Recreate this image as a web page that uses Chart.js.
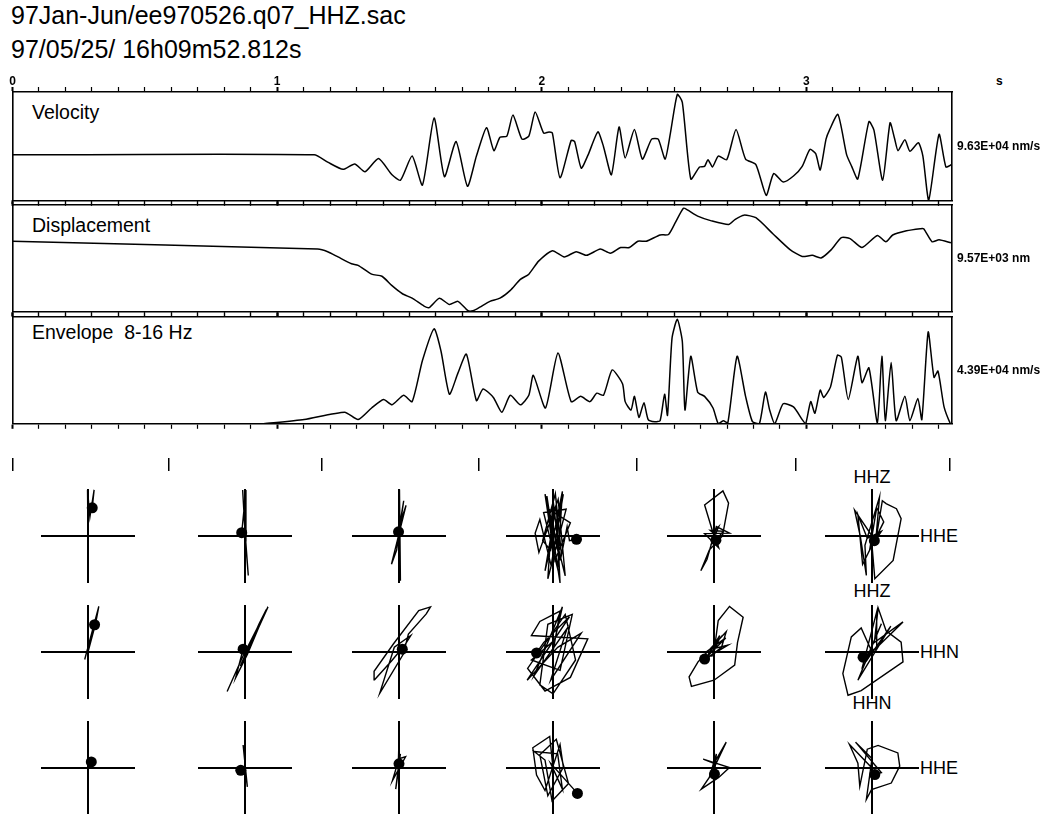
<!DOCTYPE html>
<html lang="en">
<head>
<meta charset="UTF-8">
<title>97Jan-Jun/ee970526.q07_HHZ.sac</title>
<script src="https://cdn.jsdelivr.net/npm/chart.js"></script>
<style>
  body { margin: 0; width: 1057px; height: 814px; position: relative; overflow: hidden; background: #fff;
         font-family: 'Liberation Sans', Arial, Helvetica, sans-serif; color: #000; }
  canvas { position: absolute; }
  .txt { position: absolute; white-space: pre; line-height: 1; }
  .title { font-size: 25px; left: 11px; }
  .panel { font-size: 19.5px; left: 32px; }
  .chan { font-size: 18px; }
  .mid { transform: translateX(-50%); }
</style>
</head>
<body>
<div class="txt title" style="top:3px">97Jan-Jun/ee970526.q07_HHZ.sac</div>
<div class="txt title" style="top:37px">97/05/25/ 16h09m52.812s</div>
<div class="txt" style="left:996px;top:75px;font-size:12px;font-weight:bold">s</div>
<div class="txt panel" style="top:103px">Velocity</div>
<div class="txt panel" style="top:216px">Displacement</div>
<div class="txt panel" style="top:323px">Envelope  8-16 Hz</div>
<div class="txt chan mid" style="left:872px;top:468px">HHZ</div>
<div class="txt chan mid" style="left:872px;top:582px">HHZ</div>
<div class="txt chan mid" style="left:872px;top:694px">HHN</div>
<div class="txt chan" style="left:920px;top:527px">HHE</div>
<div class="txt chan" style="left:920px;top:643px">HHN</div>
<div class="txt chan" style="left:920px;top:759px">HHE</div>

<script>
// time axis (s)
const T_MAX = 3.55;

// velocity, relative to its peak (9.63E+04 nm/s)
const velT = [0, 1.14, 1.191, 1.249, 1.293, 1.332, 1.383, 1.434, 1.466, 1.510, 1.549, 1.593, 1.632, 1.676, 1.719, 1.753,
  1.791, 1.819, 1.842, 1.868, 1.891, 1.925, 1.951, 1.975, 2.007, 2.027, 2.040, 2.069, 2.111, 2.124, 2.149, 2.175,
  2.212, 2.233, 2.263, 2.292, 2.315, 2.350, 2.380, 2.415, 2.440, 2.466, 2.486, 2.512, 2.531, 2.563, 2.596, 2.615,
  2.628, 2.645, 2.667, 2.699, 2.734, 2.770, 2.809, 2.848, 2.876, 2.912, 2.951, 2.984, 3.013, 3.035, 3.052, 3.074,
  3.087, 3.119, 3.152, 3.171, 3.194, 3.236, 3.255, 3.288, 3.316, 3.333, 3.346, 3.372, 3.391, 3.423, 3.440, 3.462,
  3.501, 3.527, 3.549];
const velA = [0, 0, -0.12, -0.24, -0.15, -0.28, -0.06, -0.33, -0.42, -0.02, -0.50, 0.61, -0.36, 0.22, -0.52, -0.02,
  0.45, 0.07, 0.29, 0.31, 0.66, 0.26, 0.31, 0.71, 0.36, 0.38, 0.36, -0.38, 0.24, 0.22, -0.22, 0.0,
  0.38, 0.14, -0.33, 0.46, -0.05, 0.42, -0.07, 0.26, 0.26, -0.07, 0.36, 1.0, 0.87, -0.40, -0.20, -0.19,
  -0.08, -0.20, -0.02, -0.08, 0.42, -0.07, -0.16, -0.67, -0.31, -0.45, -0.35, -0.19, 0.09, 0.02, -0.25, 0.26,
  0.41, 0.67, 0.0, -0.19, -0.40, 0.55, 0.41, -0.42, 0.53, 0.27, 0.07, 0.25, 0.06, 0.20, -0.02, -0.75,
  0.34, -0.20, -0.16];

// displacement, relative to 9.57E+03 nm
const dispT = [0, 1.153, 1.191, 1.230, 1.281, 1.306, 1.357, 1.396, 1.434, 1.472, 1.510, 1.555, 1.574, 1.613, 1.651, 1.683,
  1.721, 1.740, 1.766, 1.804, 1.842, 1.881, 1.919, 1.951, 1.988, 2.040, 2.085, 2.130, 2.169, 2.221, 2.259, 2.298,
  2.331, 2.363, 2.395, 2.447, 2.479, 2.505, 2.535, 2.550, 2.589, 2.641, 2.706, 2.731, 2.764, 2.809, 2.874, 2.938,
  2.984, 3.022, 3.055, 3.094, 3.132, 3.165, 3.210, 3.268, 3.300, 3.326, 3.378, 3.430, 3.443, 3.475, 3.501, 3.546];
const dispA = [0.33, 0.18, 0.13, 0.03, -0.10, -0.13, -0.30, -0.34, -0.52, -0.67, -0.76, -0.91, -0.94, -0.76, -0.88, -0.82,
  -1.0, -1.0, -0.93, -0.82, -0.76, -0.61, -0.40, -0.30, -0.05, 0.15, 0.03, 0.13, 0.06, 0.18, 0.10, 0.21,
  0.21, 0.33, 0.33, 0.45, 0.46, 0.69, 0.96, 0.93, 0.81, 0.72, 0.65, 0.75, 0.83, 0.78, 0.47, 0.17,
  0.04, 0.06, 0.01, 0.17, 0.40, 0.38, 0.21, 0.44, 0.32, 0.45, 0.53, 0.57, 0.57, 0.32, 0.36, 0.30];

// 8-16 Hz envelope, relative to 4.39E+04 nm/s
const envT = [0.949, 1.102, 1.255, 1.306, 1.357, 1.402, 1.434, 1.478, 1.510, 1.549, 1.593, 1.619, 1.651, 1.683, 1.715,
  1.753, 1.778, 1.817, 1.849, 1.881, 1.919, 1.951, 1.968, 2.014, 2.061, 2.111, 2.147, 2.182, 2.208, 2.233,
  2.266, 2.305, 2.315, 2.337, 2.350, 2.367, 2.386, 2.402, 2.427, 2.447, 2.464, 2.475, 2.492, 2.512, 2.531,
  2.541, 2.563, 2.589, 2.615, 2.647, 2.667, 2.686, 2.703, 2.738, 2.770, 2.796, 2.822, 2.845, 2.861, 2.880,
  2.912, 2.951, 2.984, 2.997, 3.016, 3.032, 3.052, 3.065, 3.091, 3.117, 3.132, 3.158, 3.194, 3.210, 3.236,
  3.268, 3.285, 3.298, 3.320, 3.339, 3.372, 3.391, 3.421, 3.436, 3.460, 3.482, 3.497, 3.520, 3.544, 3.549];
const envA = [0, 0.04, 0.11, 0.04, 0.15, 0.23, 0.18, 0.27, 0.21, 0.60, 0.90, 0.69, 0.28, 0.48, 0.66,
  0.22, 0.33, 0.25, 0.11, 0.27, 0.18, 0.27, 0.46, 0.15, 0.67, 0.21, 0.26, 0.21, 0.29, 0.27,
  0.51, 0.38, 0.21, 0.13, 0.26, 0.06, 0.20, 0.04, 0.02, 0.03, 0.28, 0.08, 0.81, 0.99, 0.78,
  0.13, 0.64, 0.30, 0.26, 0.15, 0, 0.03, 0.01, 0.64, 0.26, 0.02, 0, 0.30, 0.13, 0,
  0.19, 0.16, 0.04, 0, 0.21, 0.10, 0.32, 0.25, 0.35, 0.65, 0.63, 0.23, 0.64, 0.39, 0.53,
  0.01, 0.64, 0.03, 0.58, 0.03, 0.26, 0.03, 0.24, 0.04, 0.87, 0.44, 0.50, 0.16, 0, 0];

// particle-motion windows (s)
const windowEdges = [0, 0.59, 1.17, 1.76, 2.36, 2.96, 3.54];

// particle motion per window, [horizontal, vertical], last point = marker
const hodoZE = [ // HHZ vs HHE
  [[0,0],[-0.01,0.98],[0.04,0.4],[0.13,0.98],[0.09,0.6]],
  [[-0.05,0.98],[0,0.1],[0.07,-0.84],[0.01,-0.1],[0.02,0.98],[-0.07,0.07]],
  [[0,0],[0.01,0.99],[0.03,-0.95],[0,0.2],[0.15,0.65],[-0.16,-0.6],[-0.05,-0.3],[0.1,0.75],[-0.01,0.09]],
  [[-0.02,-0.09],[-0.13,0.85],[0.15,-1.0],[0.07,0.67],[-0.17,-0.74],[0.22,0.89],[-0.04,-0.63],[-0.28,0.35],[-0.38,0.06],
   [-0.3,-0.35],[0.11,0.78],[0.26,-0.85],[-0.09,0.57],[0.37,0.28],[0.04,-0.52],[-0.17,0.89],[0.15,-0.52],[0,0.78],
   [-0.11,-0.91],[0.28,0.57],[-0.2,0.5],[0.1,-0.7],[0.2,0.95],[-0.05,-0.3],[-0.22,-0.1],[0.05,0.9],[0.18,-0.4],
   [0.3,0.2],[0.35,-0.1],[0.5,-0.07]],
  [[0,0],[-0.2,0.66],[0.19,0.96],[0.31,0.7],[0.18,0],[-0.1,-0.3],[-0.28,-0.74],[-0.15,-0.5],[0.05,0.2],[0.33,0.06],
   [-0.2,0.05],[0.1,-0.25],[0,0.1],[0.1,0.2],[-0.05,-0.15],[0.12,-0.05],[-0.08,0.12],[0.2,0.1],[0.04,-0.09]],
  [[0,0],[-0.37,0.55],[-0.25,0],[-0.12,-0.84],[-0.15,-0.2],[0.16,0.83],[0.08,-0.1],[0.22,0.75],[0.3,0.69],[0.52,0.58],
   [0.62,0.37],[0.45,-0.52],[0.06,-0.91],[0,-0.2],[0.2,0.1],[-0.1,-0.05],[-0.3,0.45],[-0.2,-0.6],[0.25,0.3],[0.1,0.6],
   [-0.05,-0.3],[0.15,0.05],[0.05,-0.1]]
];
const hodoZN = [ // HHZ vs HHN
  [[-0.07,-0.16],[0.23,0.97],[0.16,0.6],[0,0],[0.14,0.58]],
  [[-0.38,-0.84],[-0.05,-0.1],[0.49,0.96],[0.1,0.1],[-0.1,-0.3],[0.3,0.6],[0.45,0.9],[0.05,-0.05],[-0.2,-0.55],[-0.04,0.06]],
  [[0,0],[-0.16,-0.19],[-0.52,-0.59],[-0.53,-0.41],[-0.12,0.17],[0.42,0.88],[0.67,0.96],[0.58,0.81],[0.2,0.38],[0.09,-0.05],
   [-0.41,-0.88],[-0.1,0.1],[0.25,0.35],[0.07,0.06]],
  [[0,0],[0.15,0.87],[-0.28,0.65],[-0.46,0.35],[0.74,0.28],[0.37,-0.54],[-0.17,-0.83],[-0.54,-0.35],[0.26,0.8],[0.48,-0.17],
   [0,-0.89],[-0.28,-0.7],[-0.11,0.59],[0.41,0.8],[0.15,-0.39],[-0.46,-0.17],[0.04,0.26],[0.2,0.96],[-0.4,-0.5],[0.3,0.5],
   [-0.05,-0.6],[0.6,0.4],[0.1,0.1],[-0.55,-0.6],[0.35,0.75],[-0.2,0.2],[-0.35,-0.02]],
  [[0,0],[0.09,0.67],[0.33,0.97],[0.62,0.74],[0.5,0.2],[0.44,-0.28],[0,-0.6],[-0.48,-0.73],[-0.53,-0.53],[-0.34,-0.21],
   [0.26,0.43],[0.16,0.1],[-0.2,-0.18],[0.12,0.35],[-0.05,-0.1],[0.1,0.25],[-0.15,-0.1],[0.25,0.3],[-0.1,0.05],[0.3,0.15],
   [-0.2,-0.15]],
  [[0,0],[-0.23,0.51],[-0.44,0.32],[-0.62,-0.46],[-0.51,-0.92],[-0.23,-0.82],[0.66,-0.21],[0.62,0.21],[0.3,0.45],[0.13,0.94],
   [0.05,0.2],[0.66,0.64],[-0.1,-0.1],[0.2,0.6],[-0.3,-0.6],[0.4,0.55],[-0.2,-0.3],[0.1,0.85],[0.1,0.1],[-0.19,-0.11]]
];
const hodoNE = [ // HHN vs HHE
  [[0,0],[0.03,0.05],[0.07,0.13]],
  [[-0.04,0.49],[0.05,-0.4],[0,0],[-0.09,-0.05]],
  [[0,0.6],[-0.02,-0.1],[-0.07,-0.45],[0.01,0.2],[0.14,0.24],[-0.14,-0.27],[0.03,0.3],[0,0.09]],
  [[0,0],[-0.07,0.67],[-0.43,0.43],[-0.35,-0.15],[-0.17,-0.48],[0.15,0.5],[0.22,0.02],[-0.11,-0.59],[-0.28,0.28],[0.07,0.61],
   [0.33,-0.33],[-0.02,-0.7],[-0.17,0.17],[-0.4,0.35],[0.1,0.3],[0.2,-0.45],[-0.05,0.1],[0.52,-0.54]],
  [[0,0],[0.26,0.55],[0,0.1],[-0.23,0.19],[0.33,0.01],[0.1,-0.2],[-0.27,-0.45],[-0.1,-0.2],[0.05,0.3],[0.01,-0.13]],
  [[0,0],[-0.48,0.5],[-0.3,0.1],[-0.26,-0.39],[-0.1,0.4],[0.13,0.48],[0.55,0.32],[0.59,0.04],[0.41,-0.32],[-0.01,-0.46],
   [-0.12,-0.67],[0,0.2],[-0.35,0.55],[0.2,-0.1],[0.06,-0.14]]
];

Chart.defaults.font.family = "'Liberation Sans', Arial, sans-serif";
Chart.defaults.color = '#000';

function makeCanvas(left, top, w, h) {
  const cv = document.createElement('canvas');
  cv.width = w; cv.height = h;
  cv.style.left = left + 'px';
  cv.style.top = top + 'px';
  document.body.appendChild(cv);
  return cv;
}

const PLOT_LEFT = 12.5, PLOT_W = 939.5, RIGHT_W = 100;

function minorAxis(pos, space, showLabels) {
  return {
    type: 'linear', position: pos, min: 0, max: T_MAX,
    afterFit: s => { s.height = space; },
    grid: { drawOnChartArea: false, drawTicks: true, tickLength: 5, color: '#000',
            tickWidth: c => Number.isInteger(c.tick.value) ? 2 : 1.2 },
    border: { display: true, color: '#000', width: 1.6 },
    ticks: { stepSize: 0.1, maxTicksLimit: 1000, autoSkip: false, maxRotation: 0, includeBounds: false,
             display: showLabels, padding: -2, font: { size: 12, weight: 'bold' },
             callback: v => Number.isInteger(v) ? String(v) : '' }
  };
}

function tracePanel(top, height, times, values, yMin, yMax, label, topSpace) {
  const botSpace = 10;
  const cv = makeCanvas(PLOT_LEFT - 10.5, top - topSpace, 10.5 + PLOT_W + RIGHT_W, topSpace + height + botSpace);
  new Chart(cv, {
    type: 'line',
    data: { datasets: [{
      data: times.map((t, i) => ({ x: t, y: values[i] })),
      borderColor: '#000', borderWidth: 1.5, pointRadius: 0, tension: 0.2,
      xAxisID: 'x', yAxisID: 'y'
    }] },
    options: {
      responsive: false, animation: false, events: [],
      layout: { padding: { left: 10.5, right: 0, top: 0, bottom: 0 } },
      plugins: { legend: { display: false }, tooltip: { enabled: false } },
      scales: {
        x: minorAxis('top', topSpace, topSpace > 10),
        xb: minorAxis('bottom', botSpace, false),
        y: { position: 'left', min: yMin, max: yMax, afterFit: s => { s.width = 0; },
             grid: { drawOnChartArea: false, drawTicks: false },
             border: { display: true, color: '#000', width: 1.6 }, ticks: { display: false } },
        yr: { position: 'right', min: yMin, max: yMax, afterFit: s => { s.width = RIGHT_W; },
              afterBuildTicks: s => { s.ticks = [{ value: (s.min + s.max) / 2 }]; },
              grid: { drawOnChartArea: false, drawTicks: false },
              border: { display: true, color: '#000', width: 1.6 },
              ticks: { display: true, padding: 5, font: { size: 12, weight: 'bold' }, callback: () => label } }
      }
    }
  });
}

tracePanel(92, 111.3, velT, velA, -0.76, 1.04, '9.63E+04 nm/s', 35);
tracePanel(203.3, 111.4, dispT, dispA, -1.02, 1.02, '9.57E+03 nm', 10);
tracePanel(314.7, 111.3, envT, envA, 0, 1.01, '4.39E+04 nm/s', 10);

// window marks above the particle-motion plots
new Chart(makeCanvas(PLOT_LEFT - 10.5, 458, 10.5 + PLOT_W + RIGHT_W, 13), {
  type: 'line',
  data: { datasets: [] },
  options: {
    responsive: false, animation: false, events: [],
    layout: { padding: { left: 10.5, right: RIGHT_W, top: 0, bottom: 0 } },
    plugins: { legend: { display: false }, tooltip: { enabled: false } },
    scales: {
      x: { type: 'linear', min: 0, max: T_MAX, afterFit: s => { s.height = 0; },
           afterBuildTicks: s => { s.ticks = windowEdges.map(v => ({ value: v })); },
           grid: { drawTicks: false, color: '#000', lineWidth: 1.5 },
           border: { display: false }, ticks: { display: false } },
      y: { display: false, min: 0, max: 1 }
    }
  }
});

// particle motion plots
const colX = [88, 245, 399, 553, 714, 872];
const rowY = [536, 652, 768];

function crossAxis() {
  return {
    type: 'linear', min: -1, max: 1,
    afterFit: s => { if (s.isHorizontal()) s.height = 0; else s.width = 0; },
    afterBuildTicks: s => { s.ticks = [{ value: 0 }]; },
    grid: { drawTicks: false, color: '#000', lineWidth: 2 },
    border: { display: false }, ticks: { display: false }
  };
}

function hodogram(cx, cy, pts) {
  const half = 47, pad = 9;
  const cv = makeCanvas(cx - half - pad, cy - half - pad, 2 * (half + pad), 2 * (half + pad));
  const path = pts.map(p => ({ x: p[0], y: p[1] }));
  new Chart(cv, {
    type: 'scatter',
    data: { datasets: [
      { data: path, showLine: true, borderColor: '#000', borderWidth: 1.4, pointRadius: 0, tension: 0, clip: false },
      { data: [path[path.length - 1]], pointRadius: 5.5, pointBackgroundColor: '#000', pointBorderWidth: 0, clip: false }
    ] },
    options: {
      responsive: false, animation: false, events: [],
      layout: { padding: pad },
      plugins: { legend: { display: false }, tooltip: { enabled: false } },
      scales: { x: crossAxis(), y: crossAxis() }
    }
  });
}

[hodoZE, hodoZN, hodoNE].forEach((row, r) => {
  row.forEach((pts, c) => hodogram(colX[c], rowY[r], pts));
});
</script>
</body>
</html>
